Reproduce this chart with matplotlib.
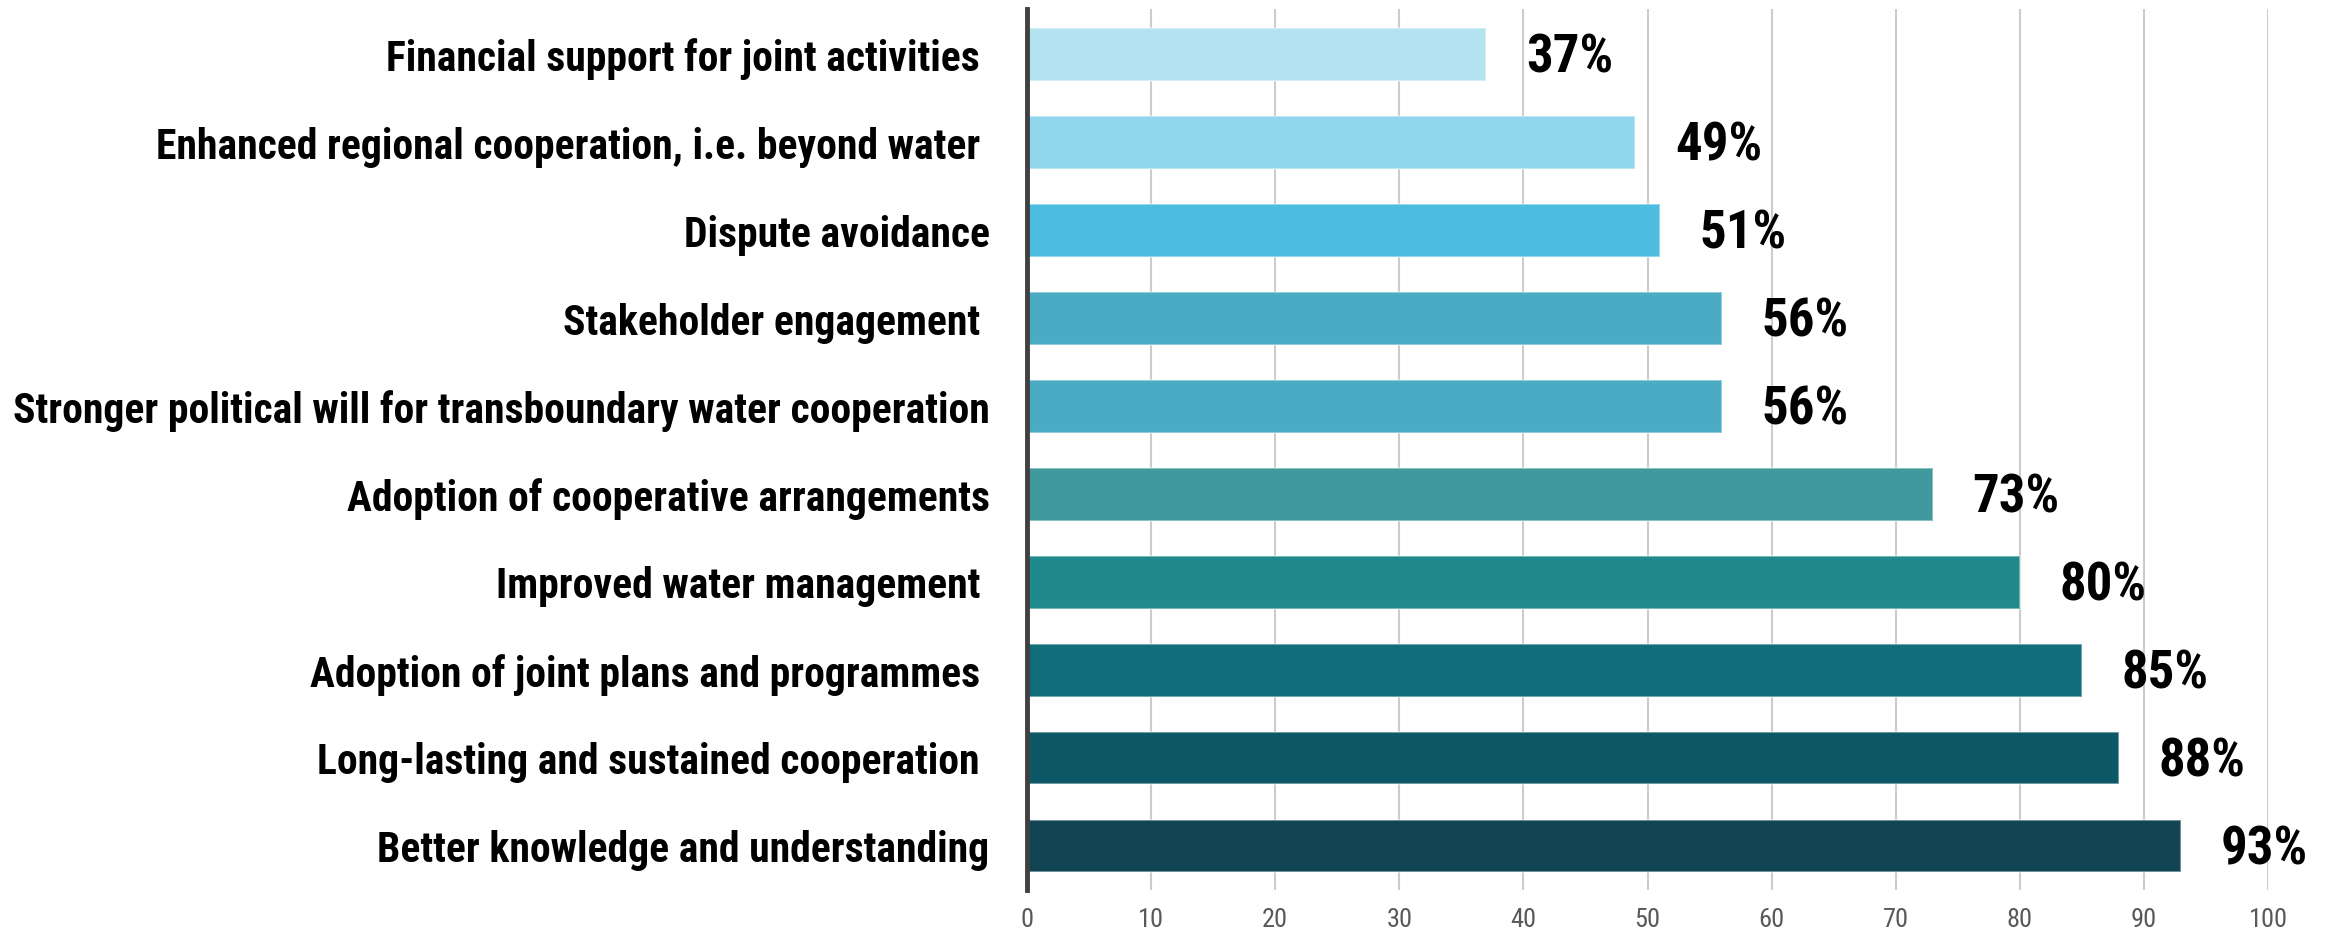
import matplotlib
matplotlib.use("Agg")
import matplotlib.pyplot as plt

labels = [
    "Financial support for joint activities ",
    "Enhanced regional cooperation, i.e. beyond water ",
    "Dispute avoidance",
    "Stakeholder engagement ",
    "Stronger political will for transboundary water cooperation",
    "Adoption of cooperative arrangements",
    "Improved water management ",
    "Adoption of joint plans and programmes ",
    "Long-lasting and sustained cooperation ",
    "Better knowledge and understanding",
]
values = [37, 49, 51, 56, 56, 73, 80, 85, 88, 93]
colors = ["#b3e3f1", "#90d6ec", "#4cbde0", "#4baac4", "#4baac4",
          "#40999c", "#1f898b", "#0f6e79", "#0d5866", "#114554"]
xticks = [0, 10, 20, 30, 40, 50, 60, 70, 80, 90, 100]

# no narrow font installed here, Roboto Condensed if it exists
narrow = ["Liberation Sans Narrow", "Roboto Condensed", "Liberation Sans", "DejaVu Sans"]

fig = plt.figure(figsize=(23.31, 9.32), dpi=100)
ax = fig.add_axes([0.4406, 0.0451, 0.9730 - 0.4406, 0.9903 - 0.0451])

pos = list(range(len(values)))
ax.barh(pos, values, height=0.6, color=colors,
        edgecolor=(1, 1, 1, 0.4), linewidth=1.5, zorder=3)

for y, v in zip(pos, values):
    ax.text(v + 3.2, y + 0.04, f"{v}%", va="center", ha="left",
            fontsize=38, fontweight="bold", family=narrow, color="black")

ax.set_xlim(0, 100)
ax.set_ylim(9.5, -0.52)
ax.set_xticks(xticks)
ax.set_xticklabels([str(t) for t in xticks], family=narrow, fontsize=19, color="#595959")
ax.tick_params(axis="x", length=0, pad=13)
ax.set_yticks(pos)
ax.set_yticklabels(labels, family=narrow, fontsize=30, fontweight="bold")
ax.tick_params(axis="y", length=0, pad=27)

ax.xaxis.grid(True, color="#cccccc", linewidth=1.5, zorder=1)
ax.set_axisbelow(True)
for s in ["top", "right", "bottom"]:
    ax.spines[s].set_visible(False)
ax.spines["left"].set_color("#404040")
ax.spines["left"].set_linewidth(3.5)
ax.spines["left"].set_zorder(4)

fig.savefig("out.png", dpi=100)
